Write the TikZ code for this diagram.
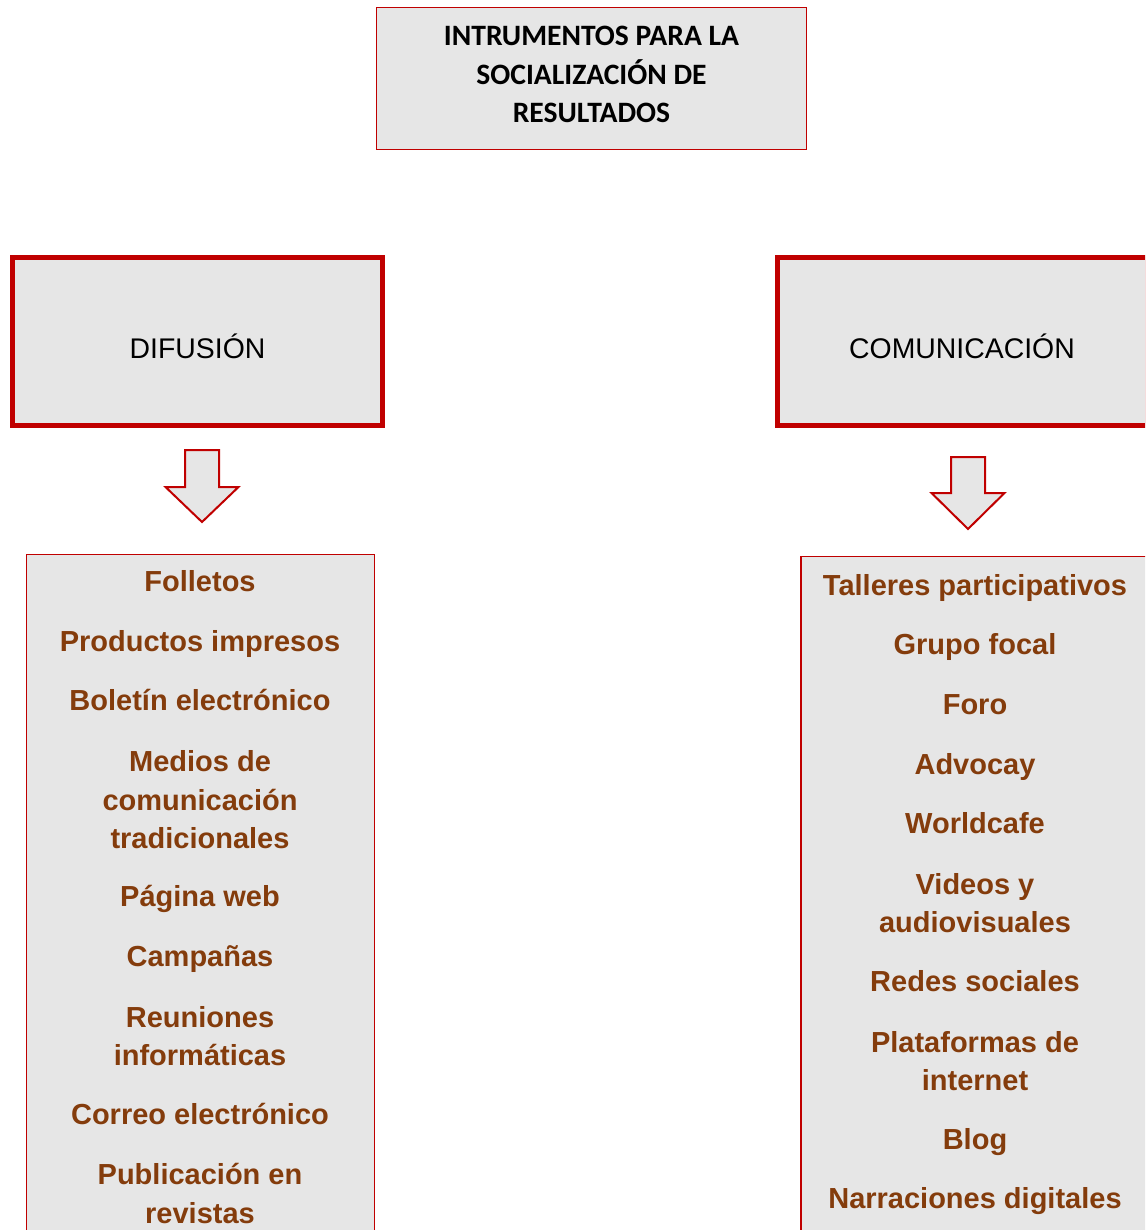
\documentclass[tikz,border=0pt]{standalone}
\usepackage{fontspec}
\setmainfont{Liberation Sans}
\newfontfamily\titlefont{Carlito}
\definecolor{boxred}{HTML}{C00000}
\definecolor{boxgray}{HTML}{E6E6E6}
\definecolor{itembrown}{HTML}{843C0C}
\tikzset{
  titlebox/.style={draw=boxred, fill=boxgray, line width=0.6pt, minimum width=215pt, minimum height=71pt,
    align=center, text depth=4pt, font=\titlefont\bfseries\fontsize{14.8}{19.25}\selectfont},
  groupbox/.style={draw=boxred, fill=boxgray, line width=2.5pt, minimum width=185pt, minimum height=84.25pt,
    text height=16.6pt, text depth=0pt, font=\fontsize{14.2}{17}\selectfont},
  listbox/.style={draw=boxred, fill=boxgray, line width=0.6pt, minimum width=174pt, minimum height=345pt, anchor=north},
  item/.style={text=itembrown, inner sep=0pt, text height=0.94em, text depth=0pt, font=\bfseries\fontsize{14.5}{19.25}\selectfont},
  itemlong/.style={text=itembrown, inner sep=0pt, align=center, text depth=0pt, font=\bfseries\fontsize{14.5}{19.25}\selectfont},
  blockarrow/.style={draw=boxred, fill=boxgray, line width=1pt, line join=miter}
}
\begin{document}
\begin{tikzpicture}[x=0.5pt, y=-0.5pt]
  \useasboundingbox (0,0) rectangle (1145,1230);
  \clip (0,0) rectangle (1145,1230);
  % title
  \node[titlebox] (titulo) at (591.5,78.5) {INTRUMENTOS PARA LA\\SOCIALIZACIÓN DE\\RESULTADOS};
  % the two groups
  \node[groupbox] (difusion) at (197.5,341.5) {DIFUSIÓN};
  \node[groupbox] (comunicacion) at (962,341.5) {COMUNICACIÓN};
  % block arrows
  \draw[blockarrow] (185,450) -- (219,450) -- (219,487) -- (238.5,487) -- (202,522) -- (165.5,487) -- (185,487) -- cycle;
  \draw[blockarrow] (951,457) -- (985,457) -- (985,493) -- (1004.5,493) -- (968,529) -- (931.5,493) -- (951,493) -- cycle;
  % lists
  \node[listbox] (listadif) at (200.5,553.5) {};
  \node[listbox] (listacom) at (975,556) {};
  \node[item] (folletos) at (200,582) {Folletos};
  \node[item] (impresos) at (200,642) {Productos impresos};
  \node[item] (boletin) at (200,701) {Boletín electrónico};
  \node[itemlong] (medios) at (200,799.5) {Medios de\\comunicación\\tradicionales};
  \node[item] (web) at (200,897) {Página web};
  \node[item] (campanas) at (200,957) {Campañas};
  \node[itemlong] (reuniones) at (200,1036) {Reuniones\\informáticas};
  \node[item] (correo) at (200,1115) {Correo electrónico};
  \node[itemlong] (revistas) at (200,1193.5) {Publicación en\\revistas};
  \node[item] (talleres) at (975,586) {Talleres participativos};
  \node[item] (focal) at (975,645) {Grupo focal};
  \node[item] (foro) at (975,705) {Foro};
  \node[item] (advocay) at (975,765) {Advocay};
  \node[item] (worldcafe) at (975,824) {Worldcafe};
  \node[itemlong] (videos) at (975,903) {Videos y\\audiovisuales};
  \node[item] (redes) at (975,982) {Redes sociales};
  \node[itemlong] (plataformas) at (975,1061) {Plataformas de\\internet};
  \node[item] (blog) at (975,1140) {Blog};
  \node[item] (narraciones) at (975,1199) {Narraciones digitales};
\end{tikzpicture}
\end{document}
